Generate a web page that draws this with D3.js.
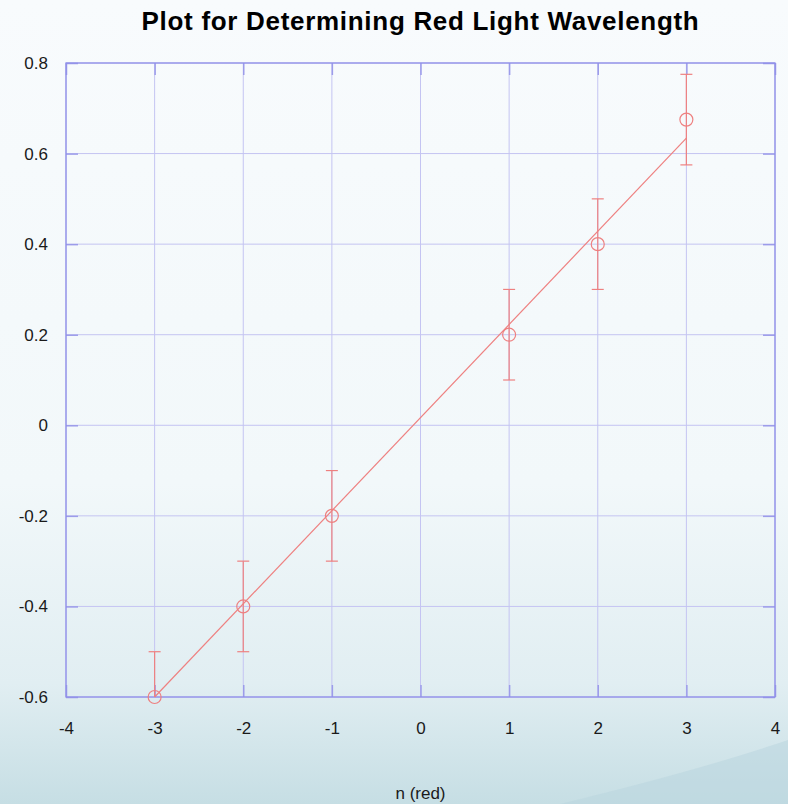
<!DOCTYPE html>
<html>
<head>
<meta charset="utf-8">
<script src="https://d3js.org/d3.v7.min.js"></script>
<style>
  html, body { margin: 0; padding: 0; }
  body { width: 788px; height: 804px; overflow: hidden; font-family: "Liberation Sans", Arial, sans-serif; }
</style>
</head>
<body>
<svg id="chart" width="788" height="804"></svg>
<script>
// data
const nValues = [-3, -2, -1, 1, 2, 3];
const yValues = [-0.6, -0.4, -0.2, 0.2, 0.4, 0.675];
const yErrors = [0.1, 0.1, 0.1, 0.1, 0.1, 0.1];
const fitX = [-3, 3];
const fitY = [-0.6, 0.634];
const xTicks = [-4, -3, -2, -1, 0, 1, 2, 3, 4];
const yTicks = [-0.6, -0.4, -0.2, 0, 0.2, 0.4, 0.6, 0.8];

const margin = {top: 63, right: 13, bottom: 107, left: 66};
const width = 788, height = 804;
const plotW = width - margin.left - margin.right;
const plotH = height - margin.top - margin.bottom;
const font = '"Liberation Sans", Arial, sans-serif';

const svg = d3.select('#chart');

// slide-ish background
const defs = svg.append('defs');
const grad = defs.append('linearGradient')
    .attr('id', 'bg').attr('x1', 0).attr('y1', 0).attr('x2', 0).attr('y2', 1);
grad.append('stop').attr('offset', '0%').attr('stop-color', '#f8fbfd');
grad.append('stop').attr('offset', '60%').attr('stop-color', '#f2f8fa');
grad.append('stop').attr('offset', '85%').attr('stop-color', '#e1eef2');
grad.append('stop').attr('offset', '100%').attr('stop-color', '#c6dee4');
svg.append('rect').attr('width', width).attr('height', height).attr('fill', 'url(#bg)');
svg.append('path')
    .attr('d', 'M560,804 Q700,770 788,740 L788,804 Z')
    .attr('fill', '#b9d6de').attr('opacity', 0.55);

const x = d3.scaleLinear().domain([-4, 4]).range([0, plotW]);
const y = d3.scaleLinear().domain([-0.6, 0.8]).range([plotH, 0]);

const g = svg.append('g').attr('transform', `translate(${margin.left},${margin.top})`);

// grid
g.append('g').selectAll('line').data(xTicks).join('line')
    .attr('x1', d => x(d)).attr('x2', d => x(d))
    .attr('y1', 0).attr('y2', plotH)
    .attr('stroke', '#c4c4f2').attr('stroke-width', 1);
g.append('g').selectAll('line').data(yTicks).join('line')
    .attr('x1', 0).attr('x2', plotW)
    .attr('y1', d => y(d)).attr('y2', d => y(d))
    .attr('stroke', '#c4c4f2').attr('stroke-width', 1);

// axes with inward ticks, plain hyphen for minus
const fmtX = d => String(d);
const fmtY = d => d === 0 ? '0' : d.toFixed(1);
const xAxisB = d3.axisBottom(x).tickValues(xTicks).tickSize(-12).tickPadding(25).tickFormat(fmtX);
const xAxisT = d3.axisTop(x).tickValues(xTicks).tickSize(-12).tickFormat('');
const yAxisL = d3.axisLeft(y).tickValues(yTicks).tickSize(-12).tickPadding(18).tickFormat(fmtY);
const yAxisR = d3.axisRight(y).tickValues(yTicks).tickSize(-12).tickFormat('');

function styleAxis(sel) {
  sel.select('.domain').remove();
  sel.selectAll('.tick line').attr('stroke', '#9c9cea').attr('stroke-width', 1.5);
  sel.selectAll('.tick text')
      .attr('fill', '#1a1a1a')
      .style('font-family', font)
      .style('font-size', '17px');
}
g.append('g').attr('transform', `translate(0,${plotH})`).call(xAxisB).call(styleAxis);
g.append('g').call(xAxisT).call(styleAxis);
g.append('g').call(yAxisL).call(styleAxis);
g.append('g').attr('transform', `translate(${plotW},0)`).call(yAxisR).call(styleAxis);

// frame
g.append('rect')
    .attr('width', plotW).attr('height', plotH)
    .attr('fill', 'none').attr('stroke', '#9090e8').attr('stroke-width', 1.3);

const red = '#ee8080';

// fit line
const line = d3.line().x(d => x(d[0])).y(d => y(d[1]));
g.append('path')
    .datum(d3.zip(fitX, fitY))
    .attr('d', line)
    .attr('fill', 'none').attr('stroke', red).attr('stroke-width', 1.2);

// error bars (clipped to the plot area)
g.append('clipPath').attr('id', 'clip')
    .append('rect').attr('width', plotW).attr('height', plotH);
const pts = nValues.map((n, i) => ({n, v: yValues[i], e: yErrors[i]}));
const eb = g.append('g').attr('clip-path', 'url(#clip)');
eb.selectAll('line.bar').data(pts).join('line')
    .attr('class', 'bar')
    .attr('x1', d => x(d.n)).attr('x2', d => x(d.n))
    .attr('y1', d => y(d.v - d.e)).attr('y2', d => y(d.v + d.e))
    .attr('stroke', red).attr('stroke-width', 1.2);
eb.selectAll('line.capTop').data(pts).join('line')
    .attr('class', 'capTop')
    .attr('x1', d => x(d.n) - 6).attr('x2', d => x(d.n) + 6)
    .attr('y1', d => y(d.v + d.e)).attr('y2', d => y(d.v + d.e))
    .attr('stroke', red).attr('stroke-width', 1.2);
eb.selectAll('line.capBot').data(pts.filter(d => d.v - d.e >= -0.6)).join('line')
    .attr('class', 'capBot')
    .attr('x1', d => x(d.n) - 6).attr('x2', d => x(d.n) + 6)
    .attr('y1', d => y(d.v - d.e)).attr('y2', d => y(d.v - d.e))
    .attr('stroke', red).attr('stroke-width', 1.2);

// markers
g.selectAll('circle.pt').data(pts).join('circle')
    .attr('class', 'pt')
    .attr('cx', d => x(d.n)).attr('cy', d => y(d.v))
    .attr('r', 6.5)
    .attr('fill', 'none').attr('stroke', red).attr('stroke-width', 1.2);

// title and label
svg.append('text')
    .attr('x', margin.left + plotW / 2).attr('y', 30)
    .attr('text-anchor', 'middle')
    .style('font-family', font)
    .style('font-size', '26px').style('font-weight', 'bold')
    .style('letter-spacing', '0.7px')
    .attr('fill', '#000')
    .text('Plot for Determining Red Light Wavelength');

svg.append('text')
    .attr('x', margin.left + plotW / 2).attr('y', 799)
    .attr('text-anchor', 'middle')
    .style('font-family', font)
    .style('font-size', '17px')
    .attr('fill', '#1a1a1a')
    .text('n (red)');
</script>
</body>
</html>
